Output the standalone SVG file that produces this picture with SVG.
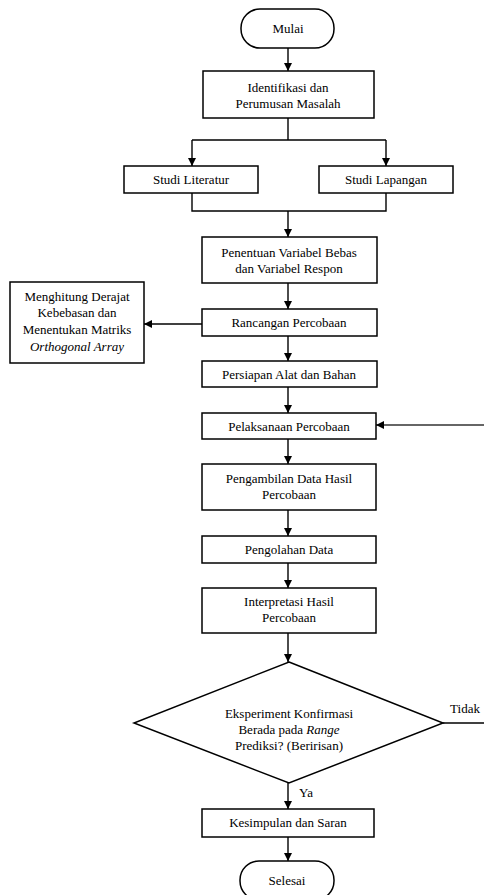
<svg xmlns="http://www.w3.org/2000/svg" width="484" height="895" viewBox="0 0 484 895">
<defs>
<marker id="arr" markerUnits="userSpaceOnUse" markerWidth="10" markerHeight="10" refX="8" refY="4" orient="auto">
<path d="M0,0 L8,4 L0,8 Z" fill="#000"/>
</marker>
<style>
.box{fill:#fff;stroke:#000;stroke-width:1.5}
.ln{fill:none;stroke:#000;stroke-width:1.4}
text{font-family:'Liberation Serif','Times New Roman',serif;font-size:13px;fill:#000;text-anchor:middle}
.it{font-style:italic}
</style>
</defs>
<rect width="484" height="895" fill="#fff"/>
<g id="connectors">
<path class="ln" d="M288,48 V71" marker-end="url(#arr)"/>
<path class="ln" d="M288,118 V140 M192,140 H386"/>
<path class="ln" d="M192,140 V166" marker-end="url(#arr)"/>
<path class="ln" d="M386,140 V166" marker-end="url(#arr)"/>
<path class="ln" d="M192,193 V211 H386 V193"/>
<path class="ln" d="M288,211 V237" marker-end="url(#arr)"/>
<path class="ln" d="M288,283 V309" marker-end="url(#arr)"/>
<path class="ln" d="M202,324 H144" marker-end="url(#arr)"/>
<path class="ln" d="M288,336 V361" marker-end="url(#arr)"/>
<path class="ln" d="M288,387 V413" marker-end="url(#arr)"/>
<path class="ln" d="M484,425 H376" marker-end="url(#arr)" style="stroke:#333"/>
<path class="ln" d="M288,439 V464" marker-end="url(#arr)"/>
<path class="ln" d="M288,510 V536" marker-end="url(#arr)"/>
<path class="ln" d="M288,563 V588" marker-end="url(#arr)"/>
<path class="ln" d="M288,633 V662" marker-end="url(#arr)"/>
<path class="ln" d="M443,723 H484"/>
<path class="ln" d="M288,783 V809" marker-end="url(#arr)"/>
<path class="ln" d="M288,837 V861" marker-end="url(#arr)"/>
<text x="465" y="713">Tidak</text>
<text x="306" y="797">Ya</text>
</g>
<g id="mulai">
<rect class="box" x="241" y="9" width="93" height="39" rx="19"/>
<text x="288" y="33">Mulai</text>
</g>
<g id="identifikasi">
<rect class="box" x="203" y="71" width="171" height="47"/>
<text x="288" y="92">Identifikasi dan</text>
<text x="288" y="108">Perumusan Masalah</text>
</g>
<g id="literatur">
<rect class="box" x="124" y="166" width="134" height="27"/>
<text x="191" y="184">Studi Literatur</text>
</g>
<g id="lapangan">
<rect class="box" x="319" y="166" width="134" height="27"/>
<text x="386" y="184">Studi Lapangan</text>
</g>
<g id="penentuan">
<rect class="box" x="202" y="237" width="175" height="46"/>
<text x="289" y="257">Penentuan Variabel Bebas</text>
<text x="289" y="273">dan Variabel Respon</text>
</g>
<g id="rancangan">
<rect class="box" x="202" y="309" width="175" height="27"/>
<text x="289" y="327">Rancangan Percobaan</text>
</g>
<g id="menghitung">
<rect class="box" x="10" y="282" width="134" height="81"/>
<text x="77" y="301">Menghitung Derajat</text>
<text x="77" y="317">Kebebasan dan</text>
<text x="77" y="334">Menentukan Matriks</text>
<text x="77" y="351" class="it">Orthogonal Array</text>
</g>
<g id="persiapan">
<rect class="box" x="202" y="361" width="175" height="26"/>
<text x="289" y="379">Persiapan Alat dan Bahan</text>
</g>
<g id="pelaksanaan">
<rect class="box" x="202" y="413" width="174" height="26"/>
<text x="289" y="431">Pelaksanaan Percobaan</text>
</g>
<g id="pengambilan">
<rect class="box" x="202" y="464" width="174" height="46"/>
<text x="289" y="483">Pengambilan Data Hasil</text>
<text x="289" y="499">Percobaan</text>
</g>
<g id="pengolahan">
<rect class="box" x="202" y="536" width="174" height="27"/>
<text x="289" y="554">Pengolahan Data</text>
</g>
<g id="interpretasi">
<rect class="box" x="202" y="588" width="174" height="45"/>
<text x="289" y="606">Interpretasi Hasil</text>
<text x="289" y="622">Percobaan</text>
</g>
<g id="keputusan">
<polygon class="box" points="289,662 443,723 289,783 134,723"/>
<text x="289" y="718">Eksperiment Konfirmasi</text>
<text x="289" y="734">Berada pada <tspan class="it">Range</tspan></text>
<text x="289" y="750">Prediksi? (Beririsan)</text>
</g>
<g id="kesimpulan">
<rect class="box" x="202" y="809" width="172" height="28"/>
<text x="288" y="827">Kesimpulan dan Saran</text>
</g>
<g id="selesai">
<rect class="box" x="240" y="861" width="94" height="39" rx="19"/>
<text x="287" y="885">Selesai</text>
</g>
</svg>
